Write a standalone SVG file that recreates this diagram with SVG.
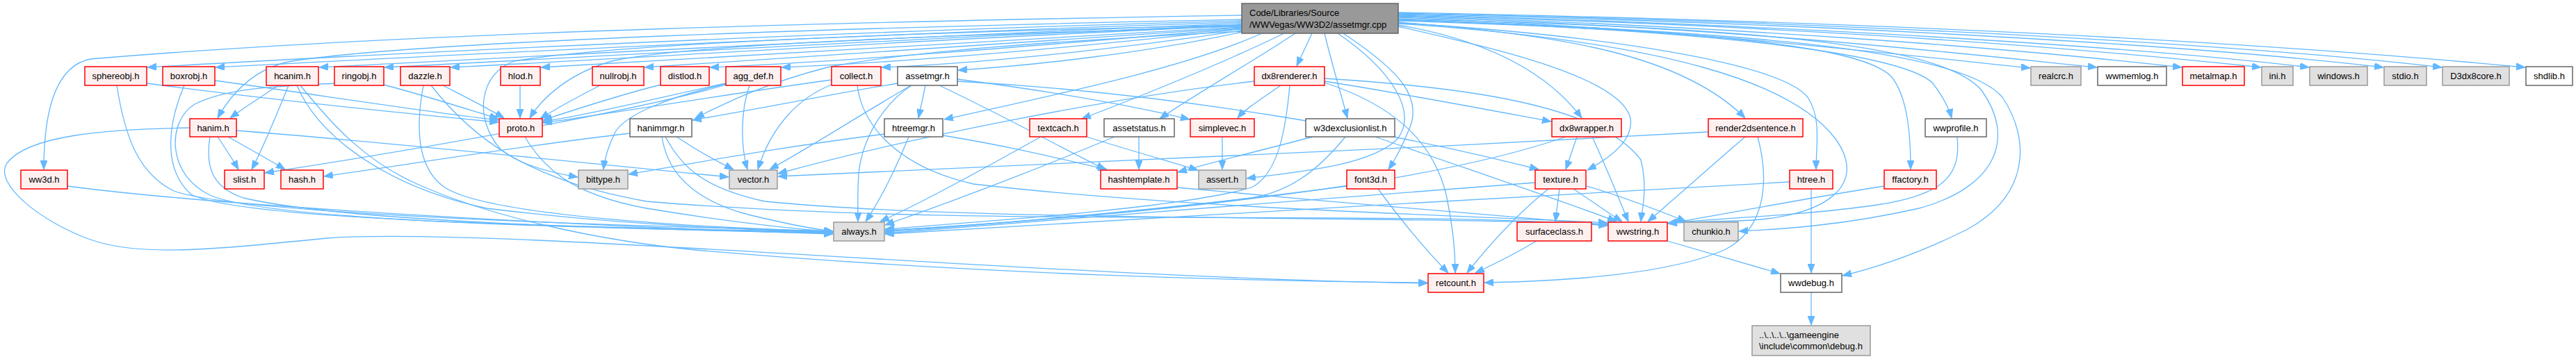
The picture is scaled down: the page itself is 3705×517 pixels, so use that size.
<svg xmlns="http://www.w3.org/2000/svg" width="3705" height="517" viewBox="0 0 3705 517">
<style>
.r{fill:#fff0f0;stroke:#ff0000;stroke-width:1.5}
.g{fill:#e0e0e0;stroke:#999999;stroke-width:1.5}
.w{fill:#ffffff;stroke:#666666;stroke-width:1.5}
.m{fill:#999999;stroke:#666666;stroke-width:1.5}
text{font-family:"Liberation Sans",Arial,sans-serif;font-size:13px;fill:#000}
.c{text-anchor:middle}
#edges path{fill:none;stroke:#63b8ff;stroke-width:1.3;marker-end:url(#a)}
</style>
<defs>
<marker id="a" viewBox="0 0 13 10" refX="13" refY="5" markerWidth="13" markerHeight="10" markerUnits="userSpaceOnUse" orient="auto">
<path d="M0,0 L13,5 L0,10 z" fill="#63b8ff" stroke="#63b8ff" stroke-width="1"/>
</marker>
</defs>
<rect width="3705" height="517" fill="#ffffff"/>
<g id="edges">
<path d="M1786,22 C1300,30 600,45 130,85 C80,95 63,160 63,244"/>
<path d="M1786,28 C1200,40 600,60 420,88 C370,97 335,130 313,170"/>
<path d="M1786,30 C1200,45 500,80 212,97"/>
<path d="M1786,32 C1200,50 600,82 310,97"/>
<path d="M1786,34 C1300,52 700,85 459,97"/>
<path d="M1786,36 C1300,55 800,85 553,97"/>
<path d="M1786,37 C1300,58 900,85 648,97"/>
<path d="M1786,39 C1400,60 1000,85 778,97"/>
<path d="M1786,40 C1450,62 1100,88 927,97"/>
<path d="M1786,41 C1500,65 1200,90 1021,97"/>
<path d="M1786,42 C1550,68 1300,90 1124,97"/>
<path d="M1786,44 C1600,72 1400,92 1268,97"/>
<path d="M1786,46 C1650,76 1480,95 1378,101"/>
<path d="M1786,38 C1400,50 1000,62 880,88 C820,105 780,140 762,170"/>
<path d="M1786,36 C1400,45 900,60 740,88 C690,105 680,170 720,215 C750,240 800,250 831,255"/>
<path d="M1786,45 C1500,60 1300,75 1190,97 C1100,120 1040,150 1000,170"/>
<path d="M1815,48 C1700,100 1500,140 1358,172"/>
<path d="M1847,48 C1750,95 1650,135 1556,171"/>
<path d="M1863,48 C1800,90 1720,135 1668,171"/>
<path d="M1887,48 L1865,95"/>
<path d="M1905,48 C1915,90 1930,140 1938,170"/>
<path d="M1932,48 C2010,100 2050,140 2025,190 C2015,215 2005,232 1997,244"/>
<path d="M1924,48 C2000,100 2040,160 2010,200 C1970,240 1860,248 1793,257"/>
<path d="M2011,36 C2150,60 2230,110 2275,170"/>
<path d="M2011,38 C2150,70 2330,110 2345,170 C2350,200 2320,225 2283,245"/>
<path d="M2011,32 C2250,50 2420,80 2510,170"/>
<path d="M2011,33 C2300,50 2560,90 2600,140 C2620,170 2612,210 2612,244"/>
<path d="M2011,34 C2400,60 2580,120 2640,200 C2690,270 2620,315 2500,318 C2450,319 2420,320 2399,322"/>
<path d="M2011,30 C2500,45 2680,70 2720,110 C2745,140 2748,200 2748,244"/>
<path d="M2011,29 C2500,45 2740,80 2780,120 C2795,140 2803,155 2807,170"/>
<path d="M2011,27 C2500,40 2790,60 2850,130 C2900,200 2870,270 2760,300 C2650,325 2560,330 2501,333"/>
<path d="M2011,28 C2500,45 2820,70 2880,140 C2920,200 2920,280 2830,330 C2760,365 2700,385 2650,397"/>
<path d="M2011,25 C2400,40 2700,75 2920,98"/>
<path d="M2011,24 C2500,40 2800,75 3016,97"/>
<path d="M2011,23 C2500,38 2900,70 3138,97"/>
<path d="M2011,22 C2600,37 3000,70 3252,97"/>
<path d="M2011,21 C2600,36 3100,70 3321,97"/>
<path d="M2011,20 C2700,35 3200,70 3428,97"/>
<path d="M2011,19 C2800,35 3300,72 3512,97"/>
<path d="M2011,18 C2900,35 3400,75 3632,97"/>
<path d="M211,120 C400,145 600,165 717,176"/>
<path d="M168,123 C180,200 200,250 250,275 C350,310 900,325 1198,333"/>
<path d="M309,116 C450,135 600,160 717,173"/>
<path d="M265,123 C245,170 230,240 275,280 C350,320 900,328 1198,334"/>
<path d="M481,120 C400,125 330,125 280,150 C240,175 240,250 300,280 C380,320 900,330 1198,335"/>
<path d="M552,122 C620,140 680,160 717,171"/>
<path d="M400,123 C380,137 355,152 331,170"/>
<path d="M415,123 C400,160 380,210 362,244"/>
<path d="M427,123 C460,200 560,270 700,300 C900,325 1100,332 1198,334"/>
<path d="M432,123 C470,170 520,230 600,265 C700,310 850,345 1000,360 C1400,395 1800,405 2053,407"/>
<path d="M273,184 C150,186 40,195 10,235 C-10,265 60,320 130,345 C200,370 300,360 470,343 C700,325 1500,400 2053,408"/>
<path d="M313,197 C325,215 335,230 343,244"/>
<path d="M328,197 C360,215 390,232 410,244"/>
<path d="M302,197 C295,240 305,270 350,285 C500,320 900,330 1198,336"/>
<path d="M340,188 C500,200 800,230 1048,255"/>
<path d="M97,268 C300,295 800,325 1198,337"/>
<path d="M637,123 C670,140 700,155 725,170"/>
<path d="M609,123 C600,170 595,240 640,270 C700,310 1000,328 1198,333"/>
<path d="M620,123 C680,200 760,260 930,290 C1400,330 2000,300 2312,325"/>
<path d="M748,123 L748,170"/>
<path d="M863,123 C830,140 800,156 777,171"/>
<path d="M950,122 C880,140 820,160 781,173"/>
<path d="M1044,120 C950,140 850,165 781,175"/>
<path d="M1078,123 C1065,160 1065,210 1075,244"/>
<path d="M1044,121 C960,140 900,165 885,190 C875,210 870,225 868,244"/>
<path d="M1044,122 C950,150 700,200 381,249"/>
<path d="M906,192 C750,210 600,235 466,254"/>
<path d="M973,197 C1000,215 1030,232 1055,244"/>
<path d="M952,197 C960,250 1000,290 1080,310 C1130,322 1170,330 1198,333"/>
<path d="M957,197 C980,240 1010,270 1100,290 C1400,320 2000,310 2312,323"/>
<path d="M1196,115 C1050,135 900,160 781,177"/>
<path d="M1196,122 C1150,140 1110,180 1090,244"/>
<path d="M1233,123 C1240,180 1290,240 1400,265 C1700,300 2100,310 2312,321"/>
<path d="M1331,123 L1321,170"/>
<path d="M1310,123 C1230,170 1160,215 1107,244"/>
<path d="M1311,123 C1270,150 1240,200 1235,250 C1233,280 1234,300 1234,319"/>
<path d="M1291,120 C1200,135 1100,155 996,173"/>
<path d="M1351,123 C1450,170 1540,220 1590,244"/>
<path d="M1377,114 C1500,130 1620,150 1711,172"/>
<path d="M1377,117 C1700,135 2000,190 2213,244"/>
<path d="M1307,197 C1290,240 1265,290 1245,319"/>
<path d="M1272,193 C1100,215 1000,235 904,251"/>
<path d="M1356,195 C1450,210 1530,230 1592,244"/>
<path d="M1497,197 C1420,240 1330,290 1266,319"/>
<path d="M1563,197 C1620,215 1680,232 1723,245"/>
<path d="M1638,197 L1638,244"/>
<path d="M1603,197 C1500,240 1370,290 1273,324"/>
<path d="M1758,197 L1758,244"/>
<path d="M1842,123 C1810,145 1790,158 1780,170"/>
<path d="M1804,117 C1600,140 1300,200 1119,250"/>
<path d="M1855,123 C1850,180 1840,250 1800,270 C1700,300 1400,320 1273,330"/>
<path d="M1905,117 C2020,135 2150,160 2231,175"/>
<path d="M1905,119 C2000,150 2060,200 2080,280 C2090,330 2093,360 2093,393"/>
<path d="M1905,113 C2100,125 2300,150 2360,230 C2370,270 2362,300 2360,319"/>
<path d="M1888,197 C1820,215 1750,232 1694,248"/>
<path d="M1935,197 C1900,240 1860,275 1800,285 C1600,310 1400,325 1273,332"/>
<path d="M1978,197 C2100,240 2250,290 2325,319"/>
<path d="M2268,197 C2262,215 2257,230 2252,244"/>
<path d="M2290,197 C2310,240 2330,290 2342,319"/>
<path d="M2252,197 C2100,250 1800,300 1273,332"/>
<path d="M1982,272 C2010,310 2050,360 2083,393"/>
<path d="M1937,268 C1700,300 1400,325 1273,334"/>
<path d="M2243,272 L2237,319"/>
<path d="M2227,272 C2180,310 2140,355 2110,393"/>
<path d="M2263,272 C2290,290 2310,305 2333,319"/>
<path d="M2282,268 C2340,285 2390,305 2425,319"/>
<path d="M2208,263 C1900,285 1500,320 1273,336"/>
<path d="M2210,347 C2180,365 2150,380 2122,393"/>
<path d="M2510,197 C2460,240 2410,285 2370,319"/>
<path d="M2457,190 C2000,215 1500,240 1119,254"/>
<path d="M2528,197 C2545,260 2540,330 2480,360 C2400,395 2250,405 2135,407"/>
<path d="M2605,272 L2605,393"/>
<path d="M2574,262 C2200,280 1600,320 1273,337"/>
<path d="M2710,268 C2600,285 2500,305 2399,322"/>
<path d="M2815,197 C2820,250 2800,280 2700,295 C2600,310 2450,316 2399,321"/>
<path d="M2398,347 C2460,365 2520,382 2560,394"/>
<path d="M2605,421 L2605,468"/>
<path d="M1693,270 C1900,290 2150,310 2312,324"/>
<path d="M755,197 C780,240 820,280 930,300 C1050,320 1150,330 1198,334"/>
</g>
<g id="n_main"><rect class="m" x="1786" y="5" width="225" height="43"/><text x="1797" y="22.5">Code/Libraries/Source</text><text x="1797" y="39.5">/WWVegas/WW3D2/assetmgr.cpp</text></g>
<g id="n_sphereobj"><rect class="r" x="122" y="96" width="89" height="27"/><text class="c" x="166.5" y="114">sphereobj.h</text></g>
<g id="n_boxrobj"><rect class="r" x="234" y="96" width="75" height="27"/><text class="c" x="271.5" y="114">boxrobj.h</text></g>
<g id="n_hcanim"><rect class="r" x="383" y="96" width="75" height="27"/><text class="c" x="420.5" y="114">hcanim.h</text></g>
<g id="n_ringobj"><rect class="r" x="481" y="96" width="71" height="27"/><text class="c" x="516.5" y="114">ringobj.h</text></g>
<g id="n_dazzle"><rect class="r" x="576" y="96" width="71" height="27"/><text class="c" x="611.5" y="114">dazzle.h</text></g>
<g id="n_hlod"><rect class="r" x="720" y="96" width="57" height="27"/><text class="c" x="748.5" y="114">hlod.h</text></g>
<g id="n_nullrobj"><rect class="r" x="852" y="96" width="74" height="27"/><text class="c" x="889" y="114">nullrobj.h</text></g>
<g id="n_distlod"><rect class="r" x="950" y="96" width="70" height="27"/><text class="c" x="985" y="114">distlod.h</text></g>
<g id="n_agg_def"><rect class="r" x="1044" y="96" width="79" height="27"/><text class="c" x="1083.5" y="114">agg_def.h</text></g>
<g id="n_collect"><rect class="r" x="1196" y="96" width="71" height="27"/><text class="c" x="1231.5" y="114">collect.h</text></g>
<g id="n_assetmgr"><rect class="w" x="1291" y="96" width="86" height="27"/><text class="c" x="1334" y="114">assetmgr.h</text></g>
<g id="n_dx8renderer"><rect class="r" x="1804" y="96" width="101" height="27"/><text class="c" x="1854.5" y="114">dx8renderer.h</text></g>
<g id="n_realcrc"><rect class="g" x="2921" y="96" width="72" height="27"/><text class="c" x="2957" y="114">realcrc.h</text></g>
<g id="n_wwmemlog"><rect class="w" x="3017" y="96" width="99" height="27"/><text class="c" x="3066.5" y="114">wwmemlog.h</text></g>
<g id="n_metalmap"><rect class="r" x="3139" y="96" width="89" height="27"/><text class="c" x="3183.5" y="114">metalmap.h</text></g>
<g id="n_ini"><rect class="g" x="3253" y="96" width="45" height="27"/><text class="c" x="3275.5" y="114">ini.h</text></g>
<g id="n_windows"><rect class="g" x="3322" y="96" width="83" height="27"/><text class="c" x="3363.5" y="114">windows.h</text></g>
<g id="n_stdio"><rect class="g" x="3429" y="96" width="61" height="27"/><text class="c" x="3459.5" y="114">stdio.h</text></g>
<g id="n_d3dx8core"><rect class="g" x="3513" y="96" width="96" height="27"/><text class="c" x="3561" y="114">D3dx8core.h</text></g>
<g id="n_shdlib"><rect class="w" x="3633" y="96" width="67" height="27"/><text class="c" x="3666.5" y="114">shdlib.h</text></g>
<g id="n_hanim"><rect class="r" x="273" y="171" width="67" height="26"/><text class="c" x="306.5" y="188.5">hanim.h</text></g>
<g id="n_proto"><rect class="r" x="718" y="171" width="62" height="26"/><text class="c" x="749" y="188.5">proto.h</text></g>
<g id="n_hanimmgr"><rect class="w" x="906" y="171" width="89" height="26"/><text class="c" x="950.5" y="188.5">hanimmgr.h</text></g>
<g id="n_htreemgr"><rect class="w" x="1272" y="171" width="84" height="26"/><text class="c" x="1314" y="188.5">htreemgr.h</text></g>
<g id="n_textcach"><rect class="r" x="1481" y="171" width="82" height="26"/><text class="c" x="1522" y="188.5">textcach.h</text></g>
<g id="n_assetstatus"><rect class="w" x="1588" y="171" width="101" height="26"/><text class="c" x="1638.5" y="188.5">assetstatus.h</text></g>
<g id="n_simplevec"><rect class="r" x="1712" y="171" width="92" height="26"/><text class="c" x="1758" y="188.5">simplevec.h</text></g>
<g id="n_w3dexclusionlist"><rect class="w" x="1878" y="171" width="128" height="26"/><text class="c" x="1942" y="188.5">w3dexclusionlist.h</text></g>
<g id="n_dx8wrapper"><rect class="r" x="2232" y="171" width="100" height="26"/><text class="c" x="2282" y="188.5">dx8wrapper.h</text></g>
<g id="n_render2dsentence"><rect class="r" x="2457" y="171" width="136" height="26"/><text class="c" x="2525" y="188.5">render2dsentence.h</text></g>
<g id="n_wwprofile"><rect class="w" x="2769" y="171" width="88" height="26"/><text class="c" x="2813" y="188.5">wwprofile.h</text></g>
<g id="n_ww3d"><rect class="r" x="30" y="245" width="67" height="27"/><text class="c" x="63.5" y="263">ww3d.h</text></g>
<g id="n_slist"><rect class="r" x="323" y="245" width="57" height="27"/><text class="c" x="351.5" y="263">slist.h</text></g>
<g id="n_hash"><rect class="r" x="404" y="245" width="61" height="27"/><text class="c" x="434.5" y="263">hash.h</text></g>
<g id="n_bittype"><rect class="g" x="832" y="245" width="71" height="27"/><text class="c" x="867.5" y="263">bittype.h</text></g>
<g id="n_vector"><rect class="g" x="1049" y="245" width="69" height="27"/><text class="c" x="1083.5" y="263">vector.h</text></g>
<g id="n_hashtemplate"><rect class="r" x="1583" y="245" width="110" height="27"/><text class="c" x="1638" y="263">hashtemplate.h</text></g>
<g id="n_assert"><rect class="g" x="1724" y="245" width="68" height="27"/><text class="c" x="1758" y="263">assert.h</text></g>
<g id="n_font3d"><rect class="r" x="1937" y="245" width="69" height="27"/><text class="c" x="1971.5" y="263">font3d.h</text></g>
<g id="n_texture"><rect class="r" x="2208" y="245" width="73" height="27"/><text class="c" x="2244.5" y="263">texture.h</text></g>
<g id="n_htree"><rect class="r" x="2574" y="245" width="62" height="27"/><text class="c" x="2605" y="263">htree.h</text></g>
<g id="n_ffactory"><rect class="r" x="2710" y="245" width="75" height="27"/><text class="c" x="2747.5" y="263">ffactory.h</text></g>
<g id="n_always"><rect class="g" x="1199" y="320" width="73" height="27"/><text class="c" x="1235.5" y="338">always.h</text></g>
<g id="n_surfaceclass"><rect class="r" x="2182" y="320" width="107" height="27"/><text class="c" x="2235.5" y="338">surfaceclass.h</text></g>
<g id="n_wwstring"><rect class="r" x="2313" y="320" width="85" height="27"/><text class="c" x="2355.5" y="338">wwstring.h</text></g>
<g id="n_chunkio"><rect class="g" x="2422" y="320" width="78" height="27"/><text class="c" x="2461" y="338">chunkio.h</text></g>
<g id="n_retcount"><rect class="r" x="2054" y="394" width="80" height="27"/><text class="c" x="2094" y="412">retcount.h</text></g>
<g id="n_wwdebug"><rect class="w" x="2561" y="394" width="88" height="27"/><text class="c" x="2605" y="412">wwdebug.h</text></g>
<g id="n_debug"><rect class="g" x="2520" y="469" width="170" height="43"/><text x="2530" y="487">..\..\..\..\gameengine</text><text x="2530" y="503">\include\common\debug.h</text></g>
</svg>
